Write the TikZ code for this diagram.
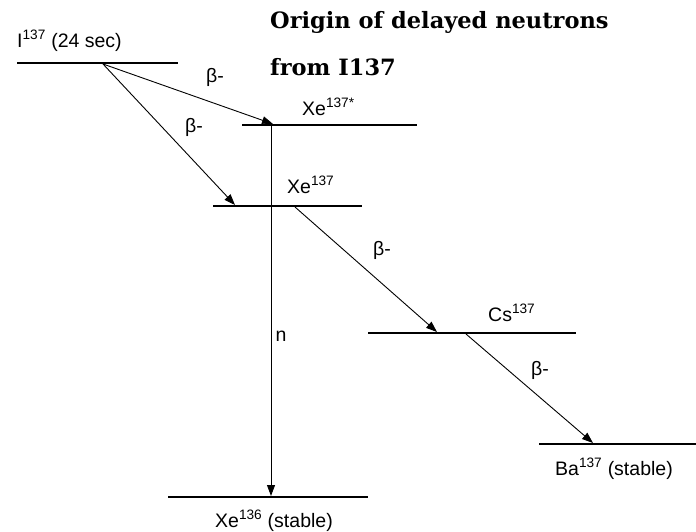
\documentclass[tikz,border=0pt]{standalone}
\usepackage{fontspec}
\setmainfont{Liberation Sans}
\newfontfamily\titlefont{DejaVu Serif}
\usetikzlibrary{arrows.meta}
\begin{document}
\begin{tikzpicture}[x=1pt,y=-1pt,
  level/.style={line width=2pt},
  decay/.style={line width=0.9pt,-{Triangle[length=11pt,width=8pt]}},
  lbl/.style={font=\fontsize{19.5}{22}\selectfont, inner sep=0pt},
  ttl/.style={font=\titlefont\bfseries\fontsize{22.5}{26}\selectfont, inner sep=0pt, anchor=base west}]
\useasboundingbox (0,0) rectangle (696,531);
% title
\node[ttl] (t1) at (270,28) {Origin of delayed neutrons};
\node[ttl] (t2) at (270,75) {from I137};
% levels
\coordinate (Ia) at (17,63);  \coordinate (Ib) at (178,63);
\coordinate (XSa) at (242,125); \coordinate (XSb) at (417,125);
\coordinate (Xa) at (213,206); \coordinate (Xb) at (362,206);
\coordinate (Ca) at (368,333); \coordinate (Cb) at (576,333);
\coordinate (Ba) at (539,444); \coordinate (Bb) at (696,444);
\coordinate (X6a) at (168,497); \coordinate (X6b) at (368,497);
\draw[level] (Ia) -- (Ib);
\draw[level] (XSa) -- (XSb);
\draw[level] (Xa) -- (Xb);
\draw[level] (Ca) -- (Cb);
\draw[level] (Ba) -- (Bb);
\draw[level] (X6a) -- (X6b);
% level labels
\node[lbl, anchor=base west] (lI) at (17,47) {I\textsuperscript{137} (24 sec)};
\node[lbl, anchor=base west] (lXS) at (302,115) {Xe\textsuperscript{137*}};
\node[lbl, anchor=base west] (lX) at (287,193) {Xe\textsuperscript{137}};
\node[lbl, anchor=base west] (lC) at (488,321) {Cs\textsuperscript{137}};
\node[lbl, anchor=base west] (lB) at (555,475) {Ba\textsuperscript{137} (stable)};
\node[lbl, anchor=base west] (lX6) at (215,527) {Xe\textsuperscript{136} (stable)};
% decay arrows
\coordinate (s1) at (103,64);
\coordinate (e1) at (273,124);
\coordinate (e2) at (235,205);
\coordinate (s3) at (295,207);
\coordinate (e3) at (437,332);
\coordinate (s4) at (466,334);
\coordinate (e4) at (593,443);
\coordinate (sn) at (271,126);
\coordinate (en) at (271,496);
\draw[decay] (s1) -- (e1);
\draw[decay] (s1) -- (e2);
\draw[decay] (s3) -- (e3);
\draw[decay] (s4) -- (e4);
\draw[decay] (sn) -- (en);
% decay labels
\node[lbl] (b1) at (215,77) {β-};
\node[lbl] (b2) at (194,127) {β-};
\node[lbl] (b3) at (382,250) {β-};
\node[lbl] (b4) at (540,370) {β-};
\node[lbl] (nl) at (281,336) {n};
\end{tikzpicture}
\end{document}
